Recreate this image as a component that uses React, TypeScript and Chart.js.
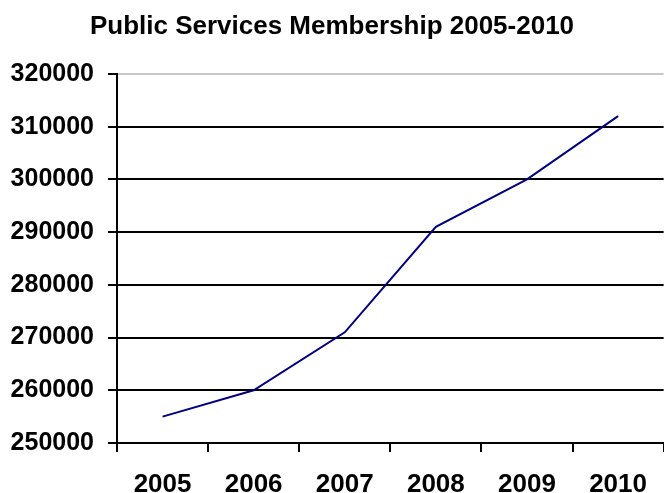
import React, { useEffect, useRef } from "react";
import { Chart, registerables } from "chart.js";

Chart.register(...registerables);

const titleText = "Public Services Membership 2005-2010";
const years = ["2005", "2006", "2007", "2008", "2009", "2010"];
const membership = [255000, 260000, 271000, 291000, 300000, 312000];
const yMin = 250000;
const yMax = 320000;
const yStep = 10000;

const FONT = "Liberation Sans, Arial, sans-serif";

export default function App() {
  const ref = useRef<HTMLCanvasElement | null>(null);

  useEffect(() => {
    document.body.style.margin = "0";
    const canvas = ref.current;
    if (!canvas) return;
    const chart = new Chart(canvas, {
      type: "line",
      data: {
        labels: years,
        datasets: [
          {
            label: "Membership",
            data: membership,
            borderColor: "#000080",
            borderWidth: 2,
            pointRadius: 0,
            fill: false,
            tension: 0,
          },
        ],
      },
      options: {
        responsive: false,
        animation: false,
        layout: { padding: { left: 0, right: 0, top: 0, bottom: 0 } },
        plugins: {
          legend: { display: false },
          tooltip: { enabled: false },
          title: {
            display: true,
            text: titleText,
            color: "#000",
            font: { family: FONT, size: 26, weight: "bold" },
            padding: { top: 11, bottom: 31.8 },
          },
        },
        scales: {
          x: {
            offset: true,
            grid: {
              offset: true,
              drawOnChartArea: false,
              drawTicks: true,
              tickLength: 9,
              color: "#000",
              lineWidth: 2,
            },
            border: { display: true, color: "#000", width: 2 },
            ticks: {
              color: "#000",
              padding: 17,
              font: { family: FONT, size: 26, weight: "bold" },
            },
            afterFit: (axis: any) => {
              axis.height = 50;
            },
          },
          y: {
            min: yMin,
            max: yMax,
            grid: {
              color: (ctx: any) => (ctx.tick && ctx.tick.value === yMax ? "#c8c8c8" : "#000"),
              lineWidth: 2,
              tickLength: 9,
              drawTicks: true,
              tickColor: "#000",
            },
            border: { display: true, color: "#000", width: 2 },
            ticks: {
              stepSize: yStep,
              color: "#000",
              padding: 14,
              font: { family: FONT, size: 25, weight: "bold" },
              callback: (v: any) => String(v),
            },
            afterFit: (axis: any) => {
              axis.width = 117;
            },
          },
        },
      },
    } as any);
    return () => chart.destroy();
  }, []);

  return (
    <div style={{ position: "absolute", left: 0, top: 0, width: 664, height: 493, background: "#fff" }}>
      <canvas ref={ref} width={664} height={493} style={{ display: "block" }} />
    </div>
  );
}
